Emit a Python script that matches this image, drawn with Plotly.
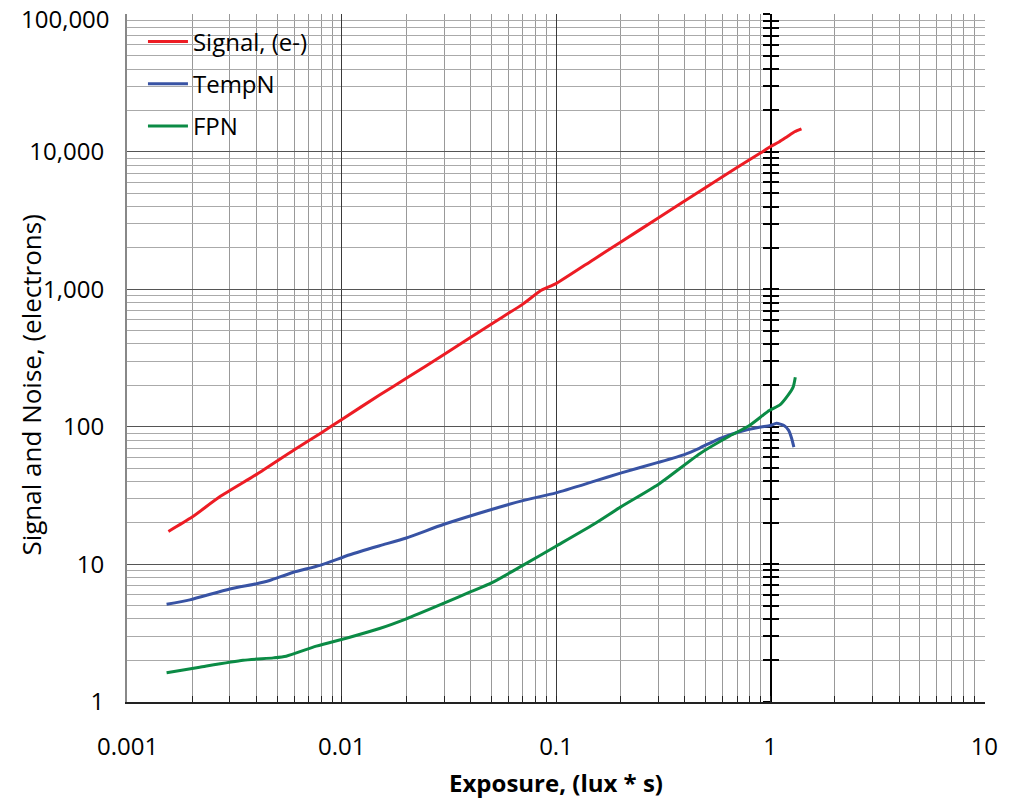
import plotly.graph_objects as go

# ---- data ----
signal_x = [0.00155, 0.002, 0.0027, 0.004, 0.006, 0.008, 0.01, 0.015, 0.02, 0.03,
            0.05, 0.07, 0.085, 0.1, 0.15, 0.2, 0.3, 0.5, 0.7, 0.9, 1.0, 1.1, 1.2, 1.3, 1.4]
signal_y = [17.3, 22, 31, 45, 68, 90, 113, 170, 225, 335,
            560, 780, 980, 1100, 1650, 2200, 3300, 5500, 7700, 9800, 10900, 11800, 12900, 14000, 14700]

tempn_x = [0.00152, 0.00195, 0.0030, 0.0040, 0.0046, 0.0059, 0.0079, 0.0109, 0.015, 0.02,
           0.03, 0.05, 0.07, 0.1, 0.15, 0.2, 0.3, 0.4, 0.469, 0.58, 0.72, 0.89, 1.0, 1.07,
           1.16, 1.22, 1.26, 1.29]
tempn_y = [5.1, 5.5, 6.6, 7.2, 7.6, 8.7, 9.8, 11.7, 13.6, 15.5,
           19.5, 25, 29, 33, 40, 46, 55, 63, 70, 82, 92, 99, 102, 106,
           102, 94, 82, 71]

fpn_x = [0.00152, 0.00217, 0.00346, 0.00479, 0.0055, 0.0076, 0.0109, 0.015, 0.02, 0.03,
         0.04, 0.05, 0.07, 0.1, 0.15, 0.2, 0.3, 0.469, 0.647, 0.80, 0.99, 1.11, 1.21,
         1.28, 1.31]
fpn_y = [1.62, 1.78, 2.0, 2.08, 2.14, 2.53, 2.94, 3.4, 4.0, 5.2,
         6.3, 7.3, 9.8, 13.5, 19.5, 26, 38, 63.7, 85.6, 102, 131, 144, 169,
         194, 229]

x_tick_vals = [0.001, 0.01, 0.1, 1, 10]
x_tick_text = ["0.001", "0.01", "0.1", "1", "10"]
y_tick_vals = [1, 10, 100, 1000, 10000, 100000]
y_tick_text = ["1", "10", "100", "1,000", "10,000", "100,000"]

series_names = ["Signal, (e-)", "TempN", "FPN"]
series_colors = ["#ED1C24", "#3853A4", "#0B8B45"]

x_minor = [m * 10 ** k for k in range(-3, 1) for m in range(2, 10)]
y_minor = [m * 10 ** k for k in range(0, 5) for m in range(2, 10)]

FONT = "Open Sans"
EPS = 3e-3

fig = go.Figure()
for name, xs, ys, col in zip(series_names,
                             [signal_x, tempn_x, fpn_x],
                             [signal_y, tempn_y, fpn_y],
                             series_colors):
    fig.add_trace(go.Scatter(x=xs, y=ys, mode="lines", name=name, legendgroup=name,
                             line=dict(color=col, width=3, shape="spline", smoothing=0.6)))

fig.update_layout(
    width=1013, height=805,
    margin=dict(l=127, r=28, t=14, b=101),
    paper_bgcolor="white", plot_bgcolor="white",
    font=dict(family=FONT, size=24, color="black"),
    showlegend=True,
    legend=dict(x=0.0186, y=0.992, xanchor="left", yanchor="top", bgcolor="rgba(0,0,0,0)",
                borderwidth=0, font=dict(size=24), tracegroupgap=8,
                itemwidth=40),
    xaxis=dict(
        type="log", range=[-3 - EPS, 1 + EPS],
        tickmode="array", tickvals=x_tick_vals, ticktext=x_tick_text,
        showgrid=True, gridcolor="#3a3a3a", gridwidth=1,
        showline=True, linecolor="#222", linewidth=2,
        ticks="inside", ticklen=6, tickcolor="#222", tickwidth=1,
        ticklabelstandoff=22,
        minor=dict(tickmode="array", tickvals=x_minor, showgrid=True,
                   gridcolor="#999999", gridwidth=1, ticks="inside",
                   ticklen=6, tickcolor="#222"),
        zeroline=False,
        title=dict(text="<b>Exposure, (lux * s)</b>", font=dict(size=24), standoff=14),
    ),
    yaxis=dict(
        type="log", range=[0 - EPS, 5 + EPS],
        tickmode="array", tickvals=y_tick_vals, ticktext=y_tick_text,
        showgrid=True, gridcolor="#555555", gridwidth=1,
        showline=True, linecolor="#888888", linewidth=2,
        ticks="", ticklabelstandoff=16,
        minor=dict(tickmode="array", tickvals=y_minor, showgrid=True,
                   gridcolor="#aaaaaa", gridwidth=1),
        zeroline=False,
    ),
    yaxis2=dict(
        type="log", range=[0 - EPS, 5 + EPS], overlaying="y", anchor="free", position=0.75,
        showline=True, linecolor="black", linewidth=2, showgrid=False,
        tickmode="array", tickvals=y_tick_vals, showticklabels=False,
        ticks="outside", ticklen=7, tickcolor="black", tickwidth=2,
        minor=dict(tickmode="array", tickvals=y_minor, ticks="outside",
                   ticklen=7, tickcolor="black", tickwidth=2, showgrid=False),
        zeroline=False, layer="below traces",
    ),
    yaxis3=dict(
        type="log", range=[0 - EPS, 5 + EPS], overlaying="y", anchor="free", position=0.75,
        showline=False, showgrid=False,
        tickmode="array", tickvals=y_tick_vals, showticklabels=False,
        ticks="inside", ticklen=7, tickcolor="black", tickwidth=2,
        minor=dict(tickmode="array", tickvals=y_minor, ticks="inside",
                   ticklen=7, tickcolor="black", tickwidth=2, showgrid=False),
        zeroline=False, layer="below traces",
    ),
)

# white panel behind the legend (covers the grid like the reference)
fig.add_shape(type="rect", xref="paper", yref="paper", x0=0.001, x1=0.239, y0=0.803, y1=0.998,
              fillcolor="white", line=dict(width=0), layer="between")

# invisible traces so the crossing axis at x = 1 is rendered
fig.add_trace(go.Scatter(x=[None], y=[None], yaxis="y2", showlegend=False, hoverinfo="skip"))
fig.add_trace(go.Scatter(x=[None], y=[None], yaxis="y3", showlegend=False, hoverinfo="skip"))

# top tick label (Plotly drops it because it touches the figure edge)
fig.add_annotation(
    text=y_tick_text[-1], xref="paper", yref="paper", x=0, y=1,
    xanchor="right", yanchor="middle", xshift=-15, yshift=-4, showarrow=False,
    font=dict(size=24, family=FONT, color="black"),
)

fig.add_annotation(
    text="Signal and Noise, (electrons)", textangle=-90,
    xref="paper", yref="paper", x=-0.113, y=0.46,
    xanchor="center", yanchor="middle", showarrow=False,
    font=dict(size=26, family=FONT, color="black"),
)

fig.write_html("out.html",
               config={"displayModeBar": False, "staticPlot": True},
               post_script="document.body.style.margin='0';document.body.style.overflow='hidden';")
